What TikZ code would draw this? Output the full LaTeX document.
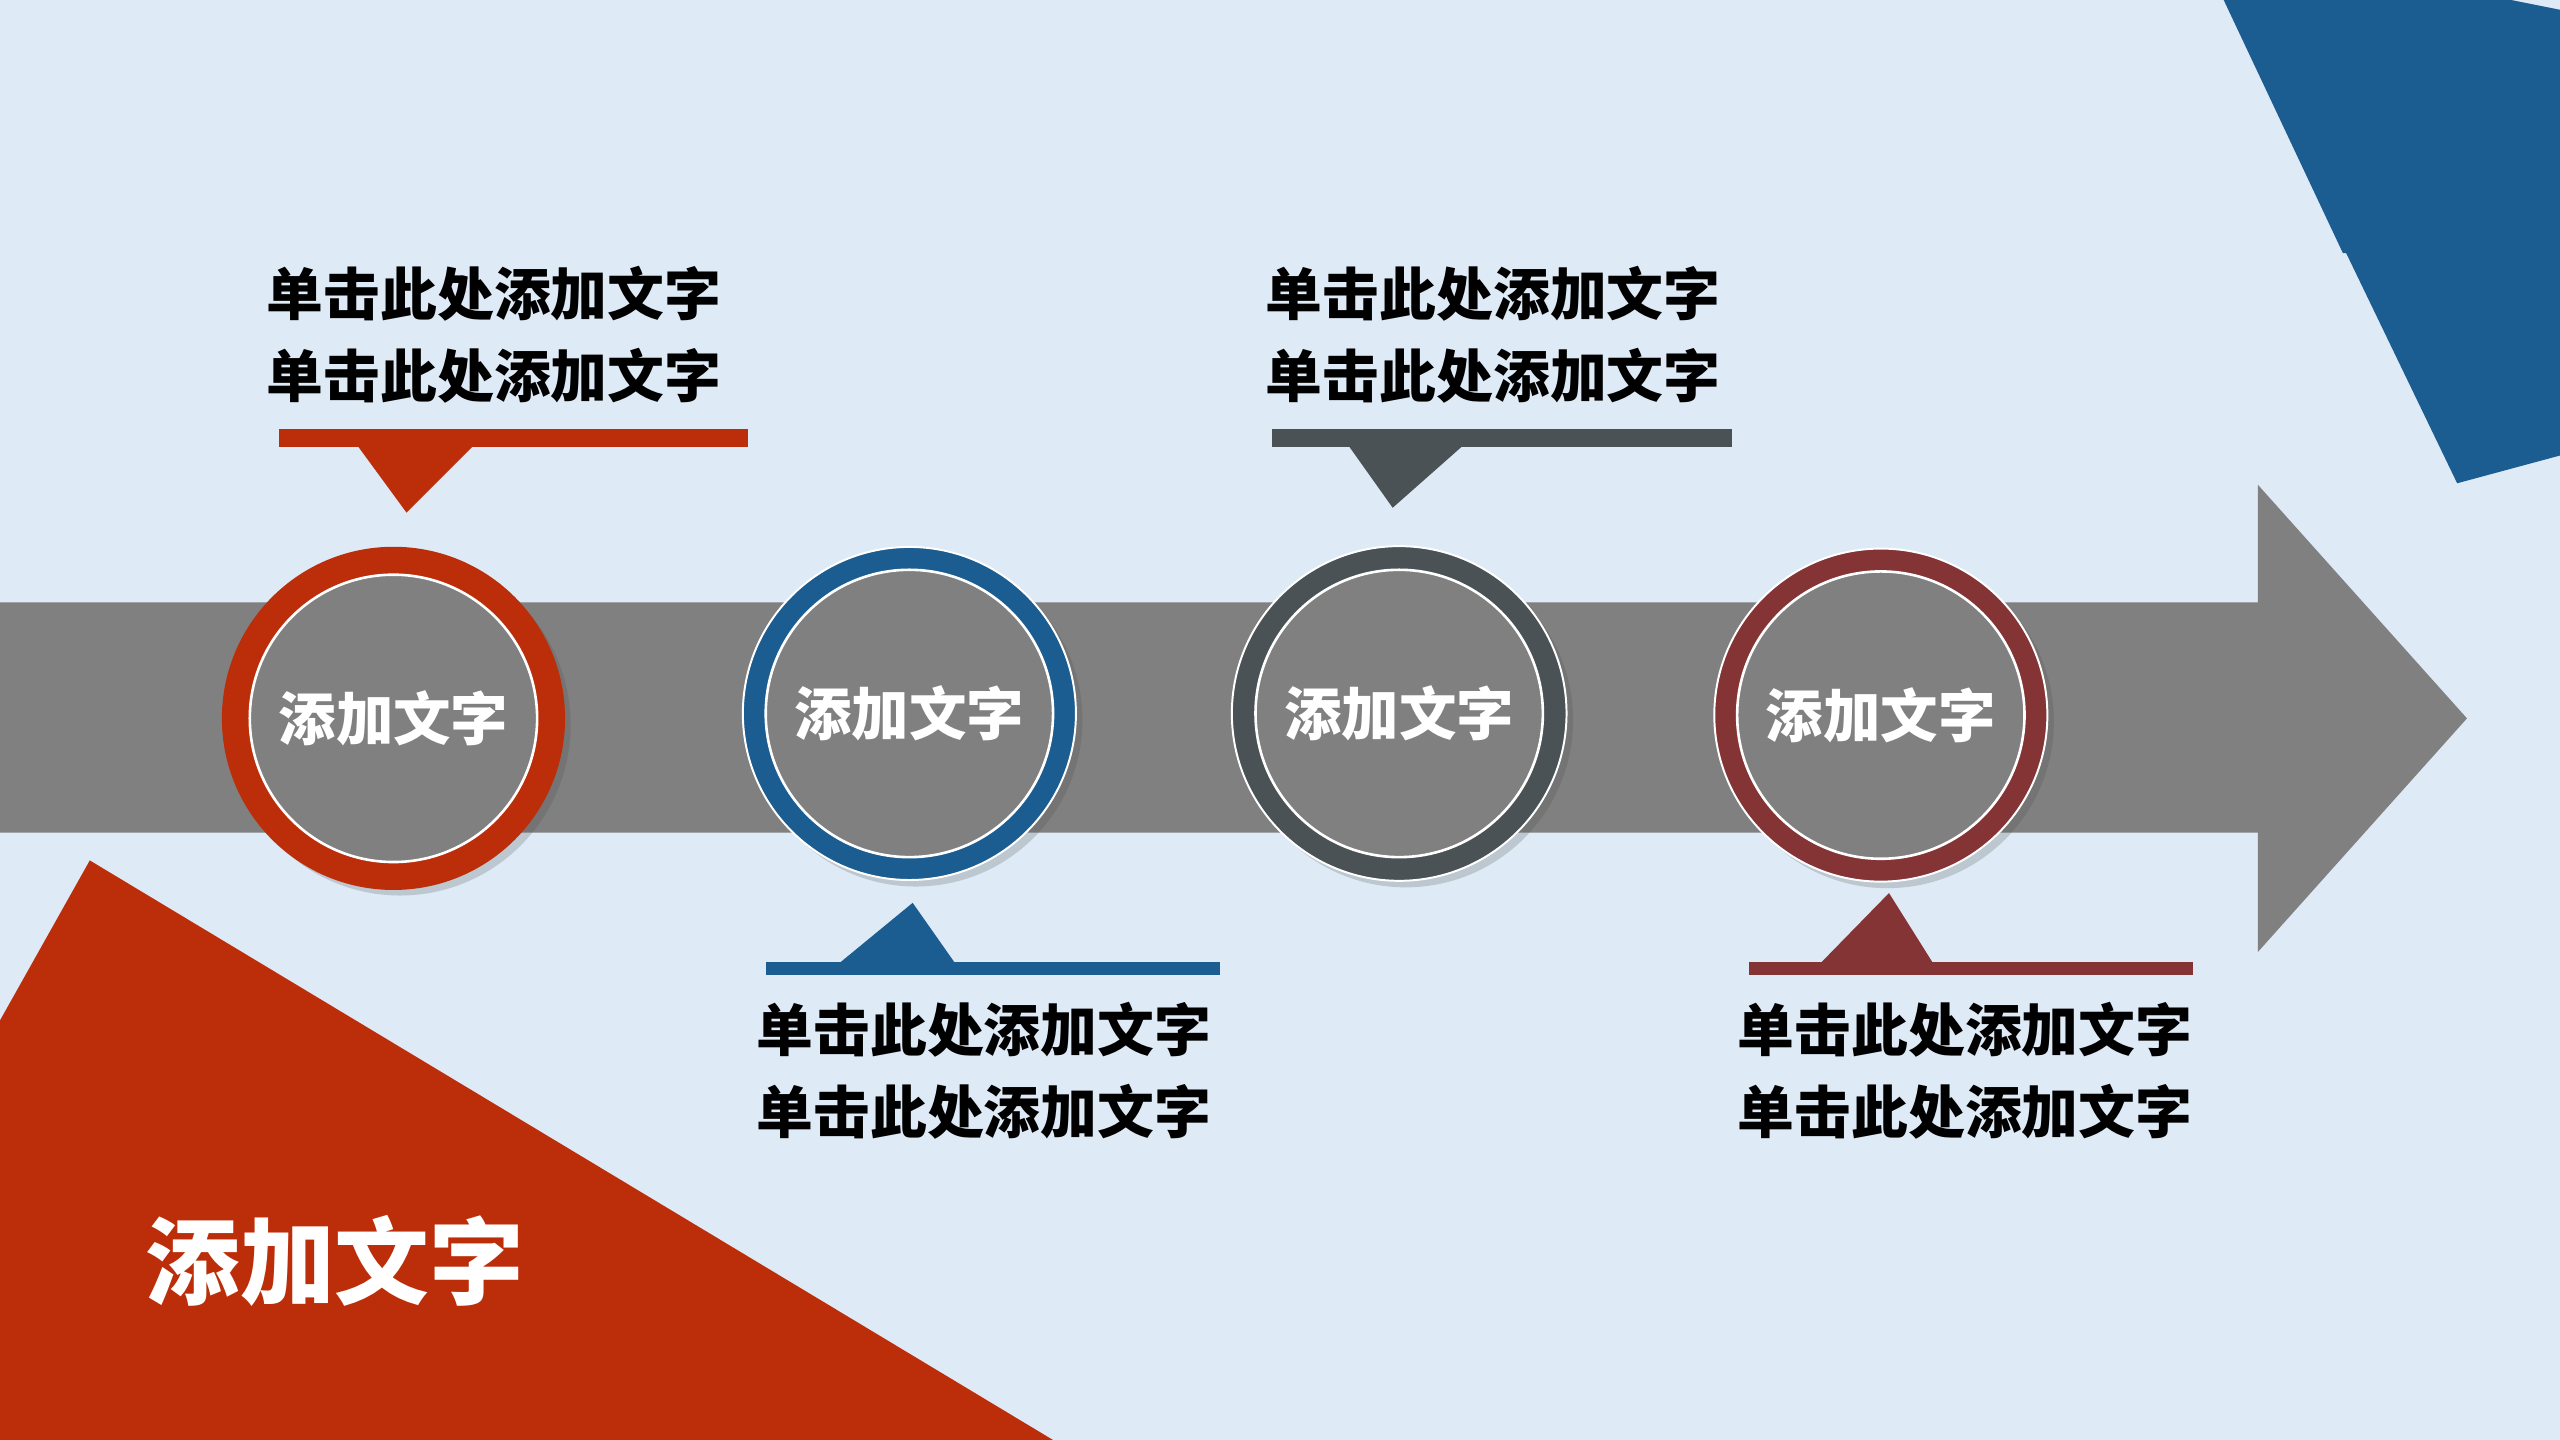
\documentclass[tikz,border=0pt]{standalone}
\usepackage{fontspec}
\newfontfamily\cjk{Noto Sans CJK SC}
\usetikzlibrary{shadows}
\definecolor{bgc}{RGB}{222,234,246}
\definecolor{redc}{RGB}{188,46,9}
\definecolor{bluec}{RGB}{27,92,145}
\definecolor{darkc}{RGB}{75,82,86}
\definecolor{maroonc}{RGB}{133,52,53}
\definecolor{bandc}{RGB}{128,128,128}
\tikzset{
  ring/.style={circle, minimum size=#1, inner sep=0pt, draw=white, line width=0.6pt,
    drop shadow={shadow xshift=2pt, shadow yshift=-2pt, opacity=0.22, fill=black!70}},
  core/.style={circle, minimum size=88pt, inner sep=0pt, fill=bandc, draw=white, line width=0.8pt,
    text=white, font=\cjk\bfseries\fontsize{17.6}{20}\selectfont},
  caption/.style={anchor=west, inner sep=0pt, align=left, text=black,
    font=\cjk\bfseries\fontsize{17.4}{25}\selectfont},
}
\begin{document}
\begin{tikzpicture}[x=0.5pt,y=-0.5pt]
\useasboundingbox (0,0) rectangle (1568,882);
\fill[bgc] (0,0) rectangle (1568,882);
% top-right blue shape
\fill[bluec] (1362,0) -- (1435,155) -- (1437,155) -- (1505,296) -- (1568,279) -- (1568,6) -- (1538,0) -- cycle;
% bottom-left red triangle
\fill[redc] (0,625) -- (55,527) -- (645,882) -- (0,882) -- cycle;
\node[text=white, inner sep=0pt, font=\cjk\bfseries\fontsize{29}{32}\selectfont] (title) at (205,772) {添加文字};
% arrow band
\fill[bandc] (0,369) -- (1383,369) -- (1383,297) -- (1511,440) -- (1383,583) -- (1383,510) -- (0,510) -- cycle;
% circles
\node[ring=104.5pt, fill=redc, draw=redc] (r1) at (241,440) {};
\node[core] (c1) at (r1) {添加文字};
\node[ring=102pt, fill=bluec] (r2) at (557,437) {};
\node[core] (c2) at (r2) {添加文字};
\node[ring=102.5pt, fill=darkc] (r3) at (857,437) {};
\node[core] (c3) at (r3) {添加文字};
\node[ring=102pt, fill=maroonc] (r4) at (1152,438) {};
\node[core] (c4) at (r4) {添加文字};
% callouts
\fill[redc] (171,263) rectangle (458,274);
\fill[redc] (219,273) -- (290,273) -- (249,314) -- cycle;
\node[caption] (t1) at (163,205) {单击此处添加文字\\单击此处添加文字};
\fill[darkc] (779,263) rectangle (1061,274);
\fill[darkc] (826,273) -- (896,273) -- (853,311) -- cycle;
\node[caption] (t3) at (775,205) {单击此处添加文字\\单击此处添加文字};
\fill[bluec] (469,589) rectangle (747,597);
\fill[bluec] (514,590) -- (585,590) -- (559,553) -- cycle;
\node[caption] (t2) at (463,656) {单击此处添加文字\\单击此处添加文字};
\fill[maroonc] (1071,589) rectangle (1343,597);
\fill[maroonc] (1115,590) -- (1184,590) -- (1157,547) -- cycle;
\node[caption] (t4) at (1064,656) {单击此处添加文字\\单击此处添加文字};
\end{tikzpicture}
\end{document}
